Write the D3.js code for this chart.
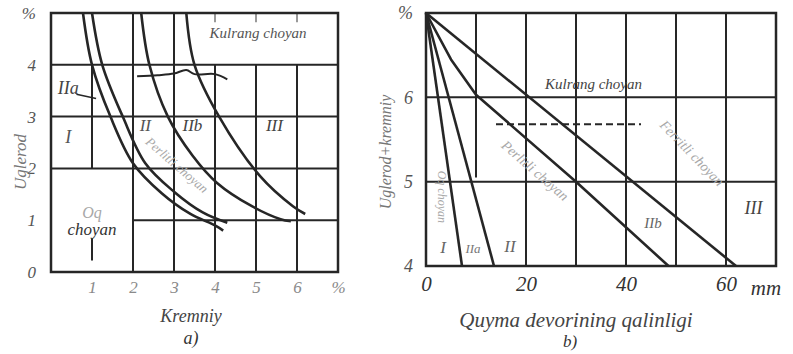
<!DOCTYPE html>
<html>
<head>
<meta charset="utf-8">
<script src="https://cdn.jsdelivr.net/npm/d3@7"></script>
<style>
  body { margin: 0; background: #fff; }
  svg { display: block; }
  text { font-family: "Liberation Serif", "Times New Roman", serif; font-style: italic; }
</style>
</head>
<body>
<svg id="chart" width="793" height="354"></svg>
<script>
// --- panel a) : carbon vs silicon (structure regions) ---
const siTicks = [1, 2, 3, 4, 5, 6, 7];          // 7 is drawn as "%"
const carbonTicks = [0, 1, 2, 3, 4, 5];          // 5 is drawn as "%"
const curveI_IIa = [[0.78, 5], [1.0, 4], [1.45, 3], [2.0, 2.1], [2.7, 1.52], [3.4, 1.12], [4.0, 0.9], [4.2, 0.8]];
const curveIIa_II = [[1.0, 5], [1.25, 4], [1.75, 3], [2.3, 2.1], [3.0, 1.55], [3.7, 1.15], [4.3, 0.95]];
const curveII_IIb = [[2.2, 5], [2.4, 4], [2.85, 3], [3.45, 2.25], [4.05, 1.72], [4.9, 1.27], [5.6, 1.02], [5.85, 0.98]];
const curveIIb_III = [[3.3, 5], [3.5, 4], [4.1, 3], [5.1, 1.85], [5.9, 1.27], [6.2, 1.12]];
const wavyLine = [[2.1, 3.78], [2.6, 3.8], [3.0, 3.83], [3.3, 3.9], [3.5, 3.82], [4.0, 3.82], [4.3, 3.72]];

// --- panel b) : carbon+silicon vs casting wall thickness ---
const thickTicks = [0, 20, 40, 60];
const sumTicks = [4, 5, 6, 7];                   // 7 is drawn as "%"
const lineI = [[0, 7], [7.2, 4]];
const lineII = [[0, 7], [13.6, 4]];
const lineIIb = [[0, 7], [5, 6.45], [10, 6.03], [30, 5.0], [48.5, 4]];
const lineIII = [[0, 7], [62, 4]];
const dashLine = [[14, 5.68], [43, 5.68]];

const svg = d3.select("#chart");
const ink = "#262626";
const faint = "#a8a8a8";

// ===== panel a =====
const xa = d3.scaleLinear().domain([0, 7]).range([51, 338]);
const ya = d3.scaleLinear().domain([0, 5]).range([272, 13]);
const ga = svg.append("g");

// grid: horizontal lines (the 1 % line starts at Si = 2, left of it sits the label)
ga.selectAll(".hg").data([1, 2, 3, 4]).enter().append("line")
  .attr("x1", d => d === 1 ? xa(2) : xa(0)).attr("x2", xa(7))
  .attr("y1", d => ya(d)).attr("y2", d => ya(d))
  .attr("stroke", ink).attr("stroke-width", 2);
// vertical lines
ga.selectAll(".vg").data([2, 3, 4, 5, 6]).enter().append("line")
  .attr("x1", d => xa(d)).attr("x2", d => xa(d))
  .attr("y1", ya(0)).attr("y2", d => (d === 2 || d === 3) ? ya(5) : ya(4))
  .attr("stroke", ink).attr("stroke-width", 2);
// Si = 1 line is broken by the "Oq choyan" label
ga.selectAll(".v1").data([[4, 2], [0.65, 0.22]]).enter().append("line")
  .attr("x1", xa(1)).attr("x2", xa(1))
  .attr("y1", d => ya(d[0])).attr("y2", d => ya(d[1]))
  .attr("stroke", ink).attr("stroke-width", 2);
// little ticks hanging from the top border
ga.selectAll(".tt").data([4, 5, 6]).enter().append("line")
  .attr("x1", d => xa(d)).attr("x2", d => xa(d))
  .attr("y1", ya(5)).attr("y2", ya(4.82))
  .attr("stroke", "#777").attr("stroke-width", 1.5);
ga.append("rect").attr("x", xa(0)).attr("y", ya(5))
  .attr("width", xa(7) - xa(0)).attr("height", ya(0) - ya(5))
  .attr("fill", "none").attr("stroke", ink).attr("stroke-width", 2.5);

const lineA = d3.line().x(d => xa(d[0])).y(d => ya(d[1])).curve(d3.curveCatmullRom);
[curveI_IIa, curveIIa_II, curveII_IIb, curveIIb_III].forEach(c => {
  ga.append("path").attr("d", lineA(c)).attr("fill", "none")
    .attr("stroke", ink).attr("stroke-width", 2.6);
});
ga.append("path").attr("d", lineA(wavyLine)).attr("fill", "none")
  .attr("stroke", ink).attr("stroke-width", 2);
// leader from IIa label
ga.append("line").attr("x1", xa(0.62)).attr("y1", ya(3.43))
  .attr("x2", xa(1.1)).attr("y2", ya(3.35)).attr("stroke", ink).attr("stroke-width", 1.5);

// axes (tick labels only)
const axA = ga.append("g").attr("transform", `translate(0,${ya(0) + 6})`)
  .call(d3.axisBottom(xa).tickValues(siTicks).tickSize(0).tickFormat(d => d === 7 ? "%" : d));
const ayA = ga.append("g").attr("transform", `translate(${xa(0) - 12},0)`)
  .call(d3.axisLeft(ya).tickValues(carbonTicks).tickSize(0).tickFormat(d => d === 5 ? "%" : d));
[axA, ayA].forEach(a => {
  a.select(".domain").remove();
  a.selectAll("text").attr("font-size", 17).attr("fill", "#8a8a8a")
    .style("font-family", "Liberation Serif").style("font-style", "italic");
});
ayA.selectAll("text").attr("fill", "#555");

// region labels
const labA = (t, x, y, size, col, rot) => {
  const e = ga.append("text").attr("x", xa(x)).attr("y", ya(y))
    .attr("font-size", size).attr("fill", col).attr("text-anchor", "middle").text(t);
  if (rot) e.attr("transform", `rotate(${rot},${xa(x)},${ya(y)})`);
  return e;
};
labA("Kulrang choyan", 5.05, 4.52, 15, "#555");
labA("IIa", 0.42, 3.43, 18, "#444");
labA("I", 0.42, 2.5, 18, "#555");
labA("II", 2.3, 2.72, 17, "#555");
labA("IIb", 3.45, 2.72, 17, "#444");
labA("III", 5.45, 2.72, 17, "#444");
labA("Perlitli choyan", 3.0, 2.0, 13, faint, 41);
labA("Oq", 1.0, 1.05, 16, faint);
labA("choyan", 1.0, 0.72, 17, "#333");
ga.append("text").attr("transform", `translate(26,162) rotate(-90)`)
  .attr("text-anchor", "middle").attr("font-size", 17).attr("fill", "#777").text("Uglerod");
ga.append("text").attr("x", 191).attr("y", 322).attr("text-anchor", "middle")
  .attr("font-size", 18).attr("fill", "#444").text("Kremniy");
ga.append("text").attr("x", 191).attr("y", 344).attr("text-anchor", "middle")
  .attr("font-size", 18).attr("fill", "#333").text("a)");

// ===== panel b =====
const xb = d3.scaleLinear().domain([0, 70]).range([426, 776]);
const yb = d3.scaleLinear().domain([4, 7]).range([266, 13]);
const gb = svg.append("g");

gb.selectAll(".hg").data([5, 6]).enter().append("line")
  .attr("x1", xb(0)).attr("x2", xb(70))
  .attr("y1", d => yb(d)).attr("y2", d => yb(d))
  .attr("stroke", ink).attr("stroke-width", 2);
gb.selectAll(".vg").data([10, 20, 30, 40, 50, 60]).enter().append("line")
  .attr("x1", d => xb(d)).attr("x2", d => xb(d))
  .attr("y1", d => d === 10 ? yb(5.05) : yb(4)).attr("y2", yb(7))
  .attr("stroke", ink).attr("stroke-width", 2);
gb.append("rect").attr("x", xb(0)).attr("y", yb(7))
  .attr("width", xb(70) - xb(0)).attr("height", yb(4) - yb(7))
  .attr("fill", "none").attr("stroke", ink).attr("stroke-width", 2.5);

const lineB = d3.line().x(d => xb(d[0])).y(d => yb(d[1]));
[lineI, lineII, lineIIb, lineIII].forEach(c => {
  gb.append("path").attr("d", lineB(c)).attr("fill", "none")
    .attr("stroke", ink).attr("stroke-width", 2.6).attr("stroke-linejoin", "round");
});
gb.append("path").attr("d", lineB(dashLine)).attr("fill", "none")
  .attr("stroke", ink).attr("stroke-width", 2).attr("stroke-dasharray", "7,4");

const axB = gb.append("g").attr("transform", `translate(0,${yb(4) + 7})`)
  .call(d3.axisBottom(xb).tickValues(thickTicks).tickSize(0));
const ayB = gb.append("g").attr("transform", `translate(${xb(0) - 10},0)`)
  .call(d3.axisLeft(yb).tickValues(sumTicks).tickSize(0).tickFormat(d => d === 7 ? "%" : d));
[axB, ayB].forEach(a => {
  a.select(".domain").remove();
  a.selectAll("text").attr("font-size", 21).attr("fill", "#333")
    .style("font-family", "Liberation Serif").style("font-style", "italic");
});
ayB.selectAll("text").attr("font-size", 18).attr("fill", "#555");
gb.append("text").attr("x", xb(68)).attr("y", yb(4) + 29).attr("text-anchor", "middle")
  .attr("font-size", 21).attr("fill", "#333").text("mm");

const labB = (t, x, y, size, col, rot) => {
  const e = gb.append("text").attr("x", xb(x)).attr("y", yb(y))
    .attr("font-size", size).attr("fill", col).attr("text-anchor", "middle").text(t);
  if (rot) e.attr("transform", `rotate(${rot},${xb(x)},${yb(y)})`);
  return e;
};
labB("Kulrang choyan", 33.5, 6.1, 15, "#444");
labB("Perlitli choyan", 21.2, 5.09, 14, faint, 41);
labB("Ferritli choyan", 52.5, 5.3, 14, faint, 46);
labB("III", 65.5, 4.62, 18, "#444");
labB("IIb", 45.4, 4.45, 15, "#666");
labB("I", 3.4, 4.15, 17, "#666");
labB("IIa", 9.4, 4.15, 13, "#777");
labB("II", 16.8, 4.17, 17, "#666");
labB("Oq choyan", 2.3, 4.82, 12, faint, 90);
gb.append("text").attr("transform", `translate(391,152) rotate(-90)`)
  .attr("text-anchor", "middle").attr("font-size", 16).attr("fill", "#777").text("Uglerod+kremniy");
gb.append("text").attr("x", 576).attr("y", 327).attr("text-anchor", "middle")
  .attr("font-size", 21).attr("fill", "#444").text("Quyma devorining qalinligi");
gb.append("text").attr("x", 570).attr("y", 347).attr("text-anchor", "middle")
  .attr("font-size", 17).attr("fill", "#333").text("b)");
</script>
</body>
</html>
